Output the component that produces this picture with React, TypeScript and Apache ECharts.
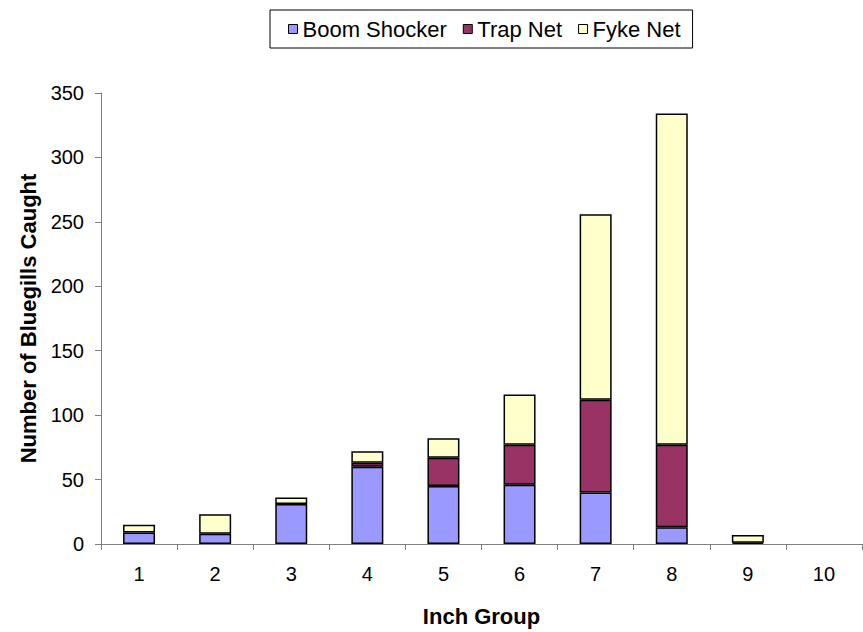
import React, { useEffect, useRef } from "react";
import * as echarts from "echarts";

// Inch groups along the x axis
const inchGroups = ["1", "2", "3", "4", "5", "6", "7", "8", "9", "10"];

// Bluegills caught per gear type in each inch group
const boomShocker = [9, 8, 31, 60, 45, 46, 40, 13, 0, 0];
const trapNet = [0, 0, 0, 3, 22, 31, 72, 64, 1, 0];
const fykeNet = [6, 15, 5, 9, 15, 39, 144, 257, 6, 0];

const seriesNames = ["Boom Shocker", "Trap Net", "Fyke Net"];
const seriesColors = ["#9999FF", "#993366", "#FFFFCC"];

const FONT = "'Liberation Sans', Arial, Helvetica, sans-serif";

export default function App() {
  const ref = useRef<HTMLDivElement>(null);

  useEffect(() => {
    if (!ref.current) return;
    const chart = echarts.init(ref.current, undefined, { renderer: "svg" });
    const values = [boomShocker, trapNet, fykeNet];

    chart.setOption({
      animation: false,
      backgroundColor: "#ffffff",
      textStyle: { fontFamily: FONT },
      legend: {
        left: 270,
        top: 10,
        orient: "horizontal",
        data: seriesNames,
        icon: "rect",
        itemWidth: 9,
        itemHeight: 9,
        itemGap: 16,
        padding: [8, 12, 8, 18],
        borderColor: "#000",
        borderWidth: 1,
        itemStyle: { borderColor: "#000", borderWidth: 1 },
        textStyle: { fontFamily: FONT, fontSize: 22, color: "#000" },
      },
      grid: { left: 101, right: 1, top: 93, bottom: 88, containLabel: false },
      xAxis: {
        type: "category",
        data: inchGroups,
        name: "Inch Group",
        nameLocation: "middle",
        nameGap: 61,
        nameTextStyle: { fontFamily: FONT, fontSize: 22, fontWeight: "bold", color: "#000" },
        axisLine: { lineStyle: { color: "#808080", width: 1 } },
        axisTick: { show: true, length: 6, alignWithLabel: false, lineStyle: { color: "#808080" } },
        axisLabel: { fontFamily: FONT, fontSize: 20, color: "#000", margin: 20 },
        splitLine: { show: false },
      },
      yAxis: {
        type: "value",
        min: 0,
        max: 350,
        interval: 50,
        name: "Number of Bluegills Caught",
        nameLocation: "middle",
        nameRotate: 90,
        nameGap: 58,
        nameTextStyle: { fontFamily: FONT, fontSize: 22, fontWeight: "bold", color: "#000" },
        axisLine: { show: true, lineStyle: { color: "#808080", width: 1 } },
        axisTick: { show: true, length: 6, lineStyle: { color: "#808080" } },
        axisLabel: { fontFamily: FONT, fontSize: 20, color: "#000", margin: 17 },
        splitLine: { show: false },
      },
      series: seriesNames.map((name, i) => ({
        name,
        type: "bar",
        stack: "total",
        barWidth: 32,
        // empty segments are left out so they leave no outline behind
        data: values[i].map((v) => (v === 0 ? "-" : v)),
        itemStyle: { color: seriesColors[i], borderColor: "#000", borderWidth: 1.5 },
        emphasis: { disabled: true },
      })),
    });

    return () => chart.dispose();
  }, []);

  return (
    <div
      ref={ref}
      style={{ position: "fixed", left: 0, top: 0, width: 863, height: 632, background: "#fff" }}
    />
  );
}
